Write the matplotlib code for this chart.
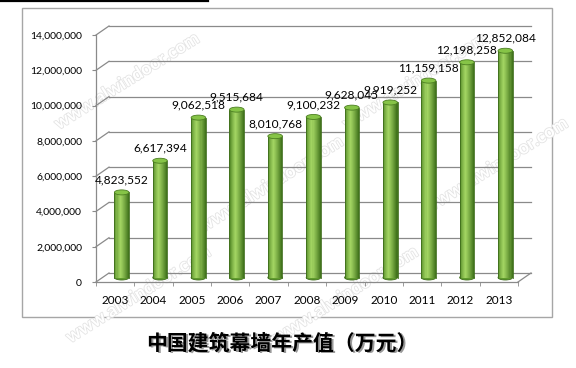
import numpy as np
import matplotlib.pyplot as plt
import matplotlib.patheffects as pe
from matplotlib.patches import Ellipse, Rectangle
from matplotlib.transforms import ScaledTranslation
from matplotlib.colors import to_rgb

years = ['2003', '2004', '2005', '2006', '2007', '2008', '2009', '2010', '2011', '2012', '2013']
values = [4823552, 6617394, 9062518, 9515684, 8010768, 9100232, 9628045, 9919252, 11159158, 12198258, 12852084]
yticks = [0, 2000000, 4000000, 6000000, 8000000, 10000000, 12000000, 14000000]
title = '中国建筑幕墙年产值（万元）'

plt.rcParams['font.family'] = ['Lato', 'DejaVu Sans']

fig = plt.figure(figsize=(5.76, 3.68), dpi=100)
ax = fig.add_axes([96/576, 86/368, 422/576, 247/368])
ax.set_zorder(2)
ax.set_xlim(-0.5, len(years) - 0.5)
ax.set_ylim(0, 14000000)

# depth offsets (3d look)
back = ax.transData + ScaledTranslation(0.13, 0.09, fig.dpi_scale_trans)
mid = ax.transData + ScaledTranslation(0.065, 0.045, fig.dpi_scale_trans)
grid_c = '#8a8a8a'

x0, x1 = -0.5, len(years) - 0.5
for v in yticks:
    # back wall line
    ax.plot([x0, x1], [v, v], color=grid_c, lw=0.9, transform=back, clip_on=False, zorder=1)
    # left wall diagonal
    p_front = ax.transData.transform((x0, v))
    p_back = back.transform((x0, v))
    ax.plot([p_front[0], p_back[0]], [p_front[1], p_back[1]], transform=None,
            color=grid_c, lw=0.9, clip_on=False, zorder=1)
# floor front edge and right diagonal
ax.plot([x0, x1], [0, 0], color=grid_c, lw=0.9, clip_on=False, zorder=1)
pf = ax.transData.transform((x1, 0))
pb = back.transform((x1, 0))
ax.plot([pf[0], pb[0]], [pf[1], pb[1]], transform=None, color=grid_c, lw=0.9, clip_on=False, zorder=1)

# cylinders
w = 0.38
n = 14
dark_l = np.array(to_rgb('#4a8020'))
light = np.array(to_rgb('#a2d462'))
dark_r = np.array(to_rgb('#3c6e18'))
ell_h = 14000000 / 247 * 5
for i, v in enumerate(values):
    bot = Ellipse((i, 0), w, ell_h, transform=mid, facecolor='#5f9a2c',
                  edgecolor='#3f6e1c', lw=0.6, zorder=2, clip_on=False)
    ax.add_patch(bot)
    for k in range(n):
        t = (k + 0.5) / n
        if t < 0.38:
            c = dark_l + (light - dark_l) * (t / 0.38) ** 0.7
        else:
            c = light + (dark_r - light) * ((t - 0.38) / 0.62) ** 1.2
        xs = i - w / 2 + k * w / n
        ax.add_patch(Rectangle((xs, 0), w / n * 1.05, v, transform=mid,
                               facecolor=c, edgecolor='none', zorder=3, clip_on=False))
    ax.plot([i - w / 2, i - w / 2], [0, v], transform=mid, color='#3f6e1c', lw=0.6, zorder=4, clip_on=False)
    ax.plot([i + w / 2, i + w / 2], [0, v], transform=mid, color='#3f6e1c', lw=0.6, zorder=4, clip_on=False)
    top = Ellipse((i, v), w, ell_h, transform=mid, facecolor='#86c447',
                  edgecolor='#4c7f22', lw=0.6, zorder=5, clip_on=False)
    ax.add_patch(top)
    ax.annotate(f'{v:,}', xy=(i, v), xycoords=mid, xytext=(0, 5), textcoords='offset points',
                ha='center', va='bottom', fontsize=8.6, color='black', zorder=6)

# axes styling
for s in ['top', 'right', 'bottom']:
    ax.spines[s].set_visible(False)
ax.spines['left'].set_color(grid_c)
ax.spines['left'].set_linewidth(0.9)
ax.set_yticks(yticks)
ax.set_yticklabels([f'{v:,}' for v in yticks], fontsize=7.5)
ax.tick_params(axis='y', length=3, color=grid_c, pad=7)
ax.set_xticks(range(len(years)))
ax.set_xticklabels(years, fontsize=8.5)
ax.set_xticks(np.arange(-0.5, len(years), 1), minor=True)
ax.tick_params(axis='x', which='major', length=0, pad=9)
ax.tick_params(axis='x', which='minor', length=3, color=grid_c)
ax.patch.set_alpha(0)

# frame and top line
fig.patches.append(Rectangle((22/576, 51/368), 530/576, 309/368, transform=fig.transFigure,
                             fill=False, edgecolor='#a6a6a6', lw=1))
fig.lines.append(plt.Line2D([0, 208/576], [367/368, 367/368], transform=fig.transFigure,
                            color='black', lw=1.6))

# watermarks (faint)
wm = [(0.22, 0.78), (0.47, 0.5), (0.72, 0.78), (0.24, 0.2), (0.86, 0.55), (0.6, 0.2)]
for (wx, wy) in wm:
    fig.text(wx, wy, 'www.alwindoor.com', fontsize=13, rotation=32, ha='center', va='center',
             color='white', fontweight='bold', zorder=1,
             path_effects=[pe.withStroke(linewidth=1.2, foreground='#e4e4e4')])

fig.text(282/576 + 1.5/576, (368 - 343 - 1.5)/368, title, fontsize=15, fontweight='bold',
         ha='center', va='center', color='#9a9a9a', family=['Noto Sans CJK SC', 'DejaVu Sans'])
fig.text(282/576, (368 - 343)/368, title, fontsize=15, fontweight='bold',
         ha='center', va='center', color='black', family=['Noto Sans CJK SC', 'DejaVu Sans'])

fig.savefig('out.png', dpi=100)
